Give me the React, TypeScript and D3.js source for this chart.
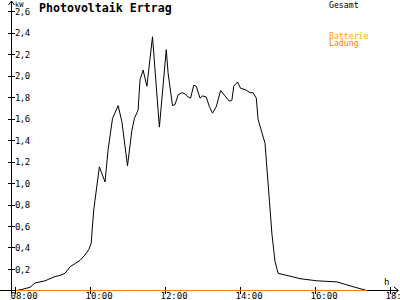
import React from "react";
import * as d3 from "d3";

const times = [
  "08:03","08:11","08:24","08:32","08:40","08:48","08:56","09:04","09:12","09:20",
  "09:28","09:36","09:44","09:52","09:58","10:02","10:03","10:06","10:08","10:15",
  "10:24","10:29","10:36","10:45","10:51","11:00","11:07","11:11","11:17","11:20",
  "11:25","11:31","11:40","11:51","12:02","12:05","12:12","12:16","12:21","12:27",
  "12:32","12:37","12:41","12:46","12:50","12:56","13:00","13:06","13:11","13:16",
  "13:22","13:29","13:36","13:43","13:47","13:50","13:56","14:01","14:08","14:16",
  "14:21","14:26","14:29","14:33","14:40","14:43","14:47","14:51","14:56","15:01",
  "15:15","15:36","16:03","16:35","17:01","17:23",
];
const gesamt = [
  0.0, 0.01, 0.03, 0.07, 0.08, 0.09, 0.11, 0.13, 0.14, 0.16,
  0.22, 0.25, 0.28, 0.33, 0.38, 0.44, 0.53, 0.75, 0.84, 1.15,
  1.01, 1.31, 1.6, 1.72, 1.57, 1.16, 1.49, 1.6, 1.68, 1.96,
  2.05, 1.9, 2.36, 1.52, 2.24, 2.02, 1.72, 1.73, 1.82, 1.84,
  1.83, 1.8, 1.79, 1.91, 1.9, 1.79, 1.81, 1.8, 1.71, 1.65,
  1.71, 1.86, 1.81, 1.76, 1.77, 1.9, 1.94, 1.88, 1.87, 1.84,
  1.84, 1.79, 1.59, 1.51, 1.37, 1.14, 0.84, 0.53, 0.27, 0.16,
  0.14, 0.11, 0.09, 0.08, 0.035, 0.0,
];
const ladungTimes = ["08:02", "17:23"];
const ladung = [0, 0];
const xTickHours = [8, 10, 12, 14, 16, 18];
const xTickLabels = ["08:00", "10:00", "12:00", "14:00", "16:00", "18:"];
const yTicks = [0.2, 0.4, 0.6, 0.8, 1.0, 1.2, 1.4, 1.6, 1.8, 2.0, 2.2, 2.4, 2.6];
const legendLabels = ["Gesamt", "Batterie", "Ladung"];
const title = "Photovoltaik Ertrag";

const toHours = (s: string) => {
  const [h, m] = s.split(":").map(Number);
  return h + m / 60;
};

export default function App() {
  const W = 400, H = 300;
  const x = d3.scaleLinear().domain([8, 18]).range([15, 390]);
  const y = d3.scaleLinear().domain([0, 2.6]).range([290.5, 11]);
  const px = (v: number) => Math.round(v) + 0.5;

  const line = d3
    .line<[number, number]>()
    .x((d) => x(d[0]))
    .y((d) => y(d[1]));
  const gData: [number, number][] = times.map((t, i) => [toHours(t), gesamt[i]]);
  const lData: [number, number][] = ladungTimes.map((t, i) => [toHours(t), ladung[i]]);
  const axisY = 290.5;
  const axisX = 11.5;
  const mono = "'DejaVu Sans Mono', monospace";

  return (
    <svg
      width={W}
      height={H}
      style={{ position: "absolute", left: 0, top: 0, background: "#fff" }}
    >
      <rect x={0} y={0} width={W} height={H} fill="#fff" />
      <path d={line(gData) || ""} fill="none" stroke="#000" strokeWidth={1} />
      {/* axes */}
      <g stroke="#000" strokeWidth={1} shapeRendering="crispEdges">
        <line x1={0} x2={398} y1={axisY} y2={axisY} />
        <line x1={axisX} x2={axisX} y1={1} y2={294} />
        {yTicks.map((t) => (
          <line key={t} x1={8} x2={15} y1={px(y(t))} y2={px(y(t))} />
        ))}
        {xTickHours.map((h) => (
          <line key={h} x1={px(x(h))} x2={px(x(h))} y1={287} y2={294} />
        ))}
      </g>
      <path d="M8.5,5 L11.5,1 L14.5,5" fill="none" stroke="#000" strokeWidth={1} />
      <path d="M394,287 L398.5,290.5 L394,294" fill="none" stroke="#000" strokeWidth={1} />
      <path
        d={line(lData) || ""}
        fill="none"
        stroke="#ff8000"
        strokeWidth={1}
        shapeRendering="crispEdges"
      />
      <g fontFamily={mono} fontSize={9} fill="#000">
        {yTicks.map((t) => (
          <text key={t} x={15} y={y(t) + 3.5} letterSpacing={-0.6}>
            {t.toFixed(1).replace(".", ",")}
          </text>
        ))}
        {xTickHours.map((h, i) => (
          <text key={h} x={x(h) - 4.5} y={299}>
            {xTickLabels[i]}
          </text>
        ))}
        <text x={384} y={285}>h</text>
      </g>
      <text x={15} y={7} fontFamily={mono} fontSize={7} fill="#000">kW</text>
      <text
        x={39}
        y={12}
        fontFamily={mono}
        fontWeight="bold"
        fontSize={11.6}
        fill="#000"
      >
        {title}
      </text>
      <g fontFamily={mono} fontSize={8.2}>
        <text x={329} y={7.5} fill="#000">{legendLabels[0]}</text>
        <text x={329} y={39} fill="#ffa500">{legendLabels[1]}</text>
        <text x={329} y={46} fill="#ff8000">{legendLabels[2]}</text>
      </g>
    </svg>
  );
}
